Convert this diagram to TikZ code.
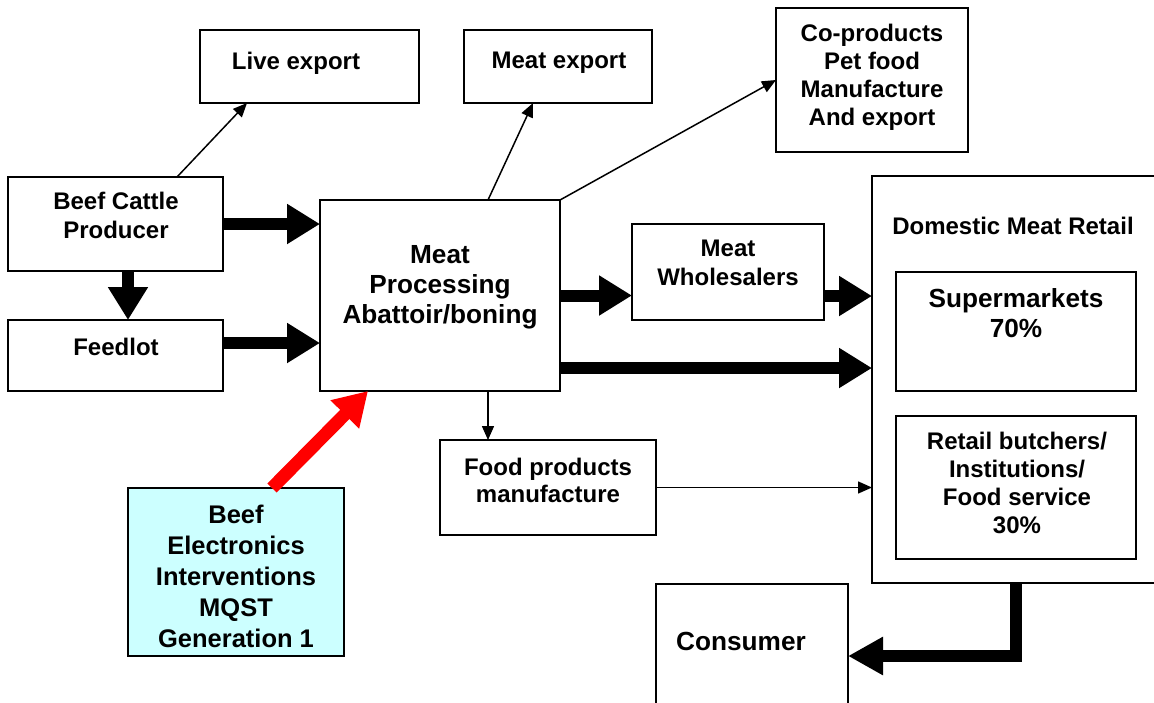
\documentclass[tikz,border=0pt]{standalone}
\usepackage{fontspec}
\setmainfont{Liberation Sans}
\usetikzlibrary{arrows.meta,calc}
\begin{document}
\begin{tikzpicture}[x=1pt,y=-1pt,
  box/.style={draw,line width=2pt,inner sep=0pt,outer sep=0pt},
  txt/.style={font=\bfseries\fontsize{24}{29}\selectfont,align=center,inner sep=0pt,anchor=north},
  bigtxt/.style={font=\bfseries\fontsize{26.2}{30}\selectfont,align=center,inner sep=0pt,anchor=north},
  thin/.style={line width=1.5pt,-{Triangle[length=14pt,width=12pt]}},
  fat/.style={line width=12pt,-{Triangle[length=33pt,width=38pt]}},
  redfat/.style={line width=13pt,red,-{Triangle[length=33pt,width=38pt]}}]
\useasboundingbox (0,0) rectangle (1154,702);
\clip (0,0) rectangle (1154,702);
% boxes
\node[box,minimum width=219pt,minimum height=73pt] (le) at (309.5,66.5) {};
\node[box,minimum width=188pt,minimum height=73pt] (me) at (558,66.5) {};
\node[box,minimum width=192pt,minimum height=144pt] (cp) at (872,80) {};
\node[box,minimum width=215pt,minimum height=94pt] (bc) at (115.5,224) {};
\node[box,minimum width=215pt,minimum height=71pt] (fl) at (115.5,355.5) {};
\node[box,minimum width=240pt,minimum height=191pt] (mp) at (440,295.5) {};
\node[box,minimum width=192pt,minimum height=96pt] (mw) at (728,272) {};
\node[box,minimum width=288pt,minimum height=407pt] (dm) at (1016,379.5) {};
\node[box,minimum width=240pt,minimum height=119pt] (sm) at (1016,331.5) {};
\node[box,minimum width=240pt,minimum height=143pt] (rb) at (1016,487.5) {};
\node[box,minimum width=216pt,minimum height=95pt] (fp) at (548,487.5) {};
\node[box,minimum width=192pt,minimum height=144pt] (cs) at (752,656) {};
\node[box,fill={rgb,255:red,204;green,255;blue,255},minimum width=216pt,minimum height=168pt] (be) at (236,572) {};
% texts
\node[txt] (tle) at (296,51.5) {Live export};
\node[txt] (tme) at (559,51.5) {Meat export};
\node[txt,font=\bfseries\fontsize{24}{28}\selectfont] (tcp) at (872,23.5) {Co-products\\Pet food\\Manufacture\\And export};
\node[txt] (tbc) at (116,191.5) {Beef Cattle\\Producer};
\node[txt] (tfl) at (116,337.5) {Feedlot};
\node[bigtxt] (tmp) at (440,245.5) {Meat\\Processing\\Abattoir/boning};
\node[txt] (tmw) at (728,239.5) {Meat\\Wholesalers};
\node[txt] (tdm) at (1013,216.5) {Domestic Meat Retail};
\node[bigtxt] (tsm) at (1016,288.5) {Supermarkets\\70\%};
\node[txt,font=\bfseries\fontsize{24}{28}\selectfont] (trb) at (1017,431.5) {Retail butchers/\\Institutions/\\Food service\\30\%};
\node[txt,font=\bfseries\fontsize{24}{27}\selectfont] (tfp) at (548,457.5) {Food products\\manufacture};
\node[bigtxt] (tcs) at (741,631.5) {Consumer};
\node[bigtxt,font=\bfseries\fontsize{25.5}{31}\selectfont] (tbe) at (236,504.5) {Beef\\Electronics\\Interventions\\MQST\\Generation 1};
% thin arrows
\draw[thin] ([xshift=61.5pt]bc.north) -- ([xshift=-62.5pt]le.south);
\draw[thin] ([xshift=48pt]mp.north) -- ([xshift=-25pt]me.south);
\draw[thin] (mp.north east) -- (cp.west);
\draw[thin] ([xshift=48pt]mp.south) -- ([xshift=48pt]mp.south |- fp.north);
\draw[thin] (fp.east) -- (fp.east -| dm.west);
% thick arrows
\draw[fat] (bc.east) -- (bc.east -| mp.west);
\draw[fat] ([xshift=12.5pt]bc.south) -- ([xshift=12.5pt]bc.south |- fl.north);
\draw[fat] ([yshift=12.5pt]fl.east) -- ([yshift=12.5pt]fl.east -| mp.west);
\draw[fat] (mp.east) -- (mp.east -| mw.west);
\draw[fat] ([yshift=-24pt]mw.east) -- ([yshift=-24pt]mw.east -| dm.west);
\draw[fat] ([yshift=-72.5pt]mp.east) -- ([yshift=-72.5pt]mp.east -| dm.west);
\draw[fat,-{Triangle[length=35pt,width=36pt]}] (dm.south) |- (cs.east);
\draw[redfat] ([xshift=36pt]be.north) -- ([xshift=-72pt]mp.south);
\end{tikzpicture}
\end{document}
